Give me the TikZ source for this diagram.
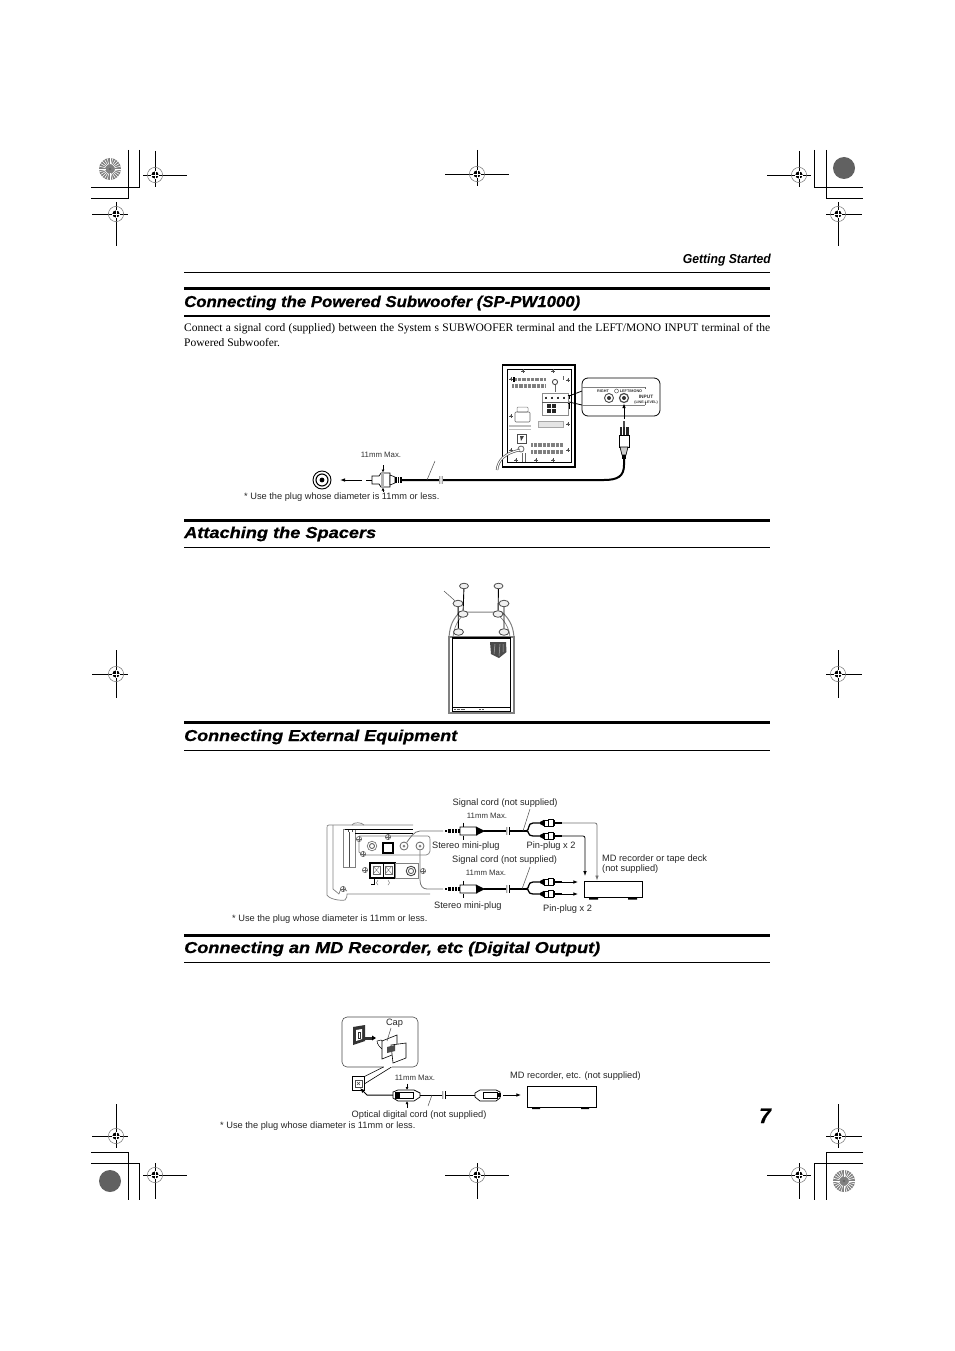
\documentclass[tikz,border=0pt]{standalone}
\usepackage{fontspec}
\setmainfont{Liberation Serif}
\setsansfont{Liberation Sans}
\newfontfamily\headfont[BoldItalicFont={Liberation Sans Bold Italic},BoldItalicFeatures={FakeBold=0.6}]{Liberation Sans}
\newfontfamily\condfont[BoldItalicFont={Liberation Sans Bold Italic}]{Liberation Sans}
\usetikzlibrary{arrows.meta,shapes.geometric}
\newcommand{\fitw}[2]{\resizebox{#1pt}{\height}{#2}}
\tikzset{
  heading/.style={anchor=base west,inner sep=0pt,font=\headfont\bfseries\itshape\fontsize{15.8}{18}\selectfont},
  bodytext/.style={anchor=base west,inner sep=0pt,font=\rmfamily\fontsize{11.5}{13}\selectfont},
  txtlabel/.style={anchor=base west,inner sep=0pt,font=\sffamily\fontsize{9.25}{11}\selectfont,text=black!85},
  tinylabel/.style={anchor=base,inner sep=0pt,font=\sffamily\fontsize{7.8}{9}\selectfont,text=black!80},
  micro/.style={anchor=base,inner sep=0pt,font=\sffamily\bfseries\fontsize{3.8}{4}\selectfont,text=black!80},
  thinrule/.style={line width=1pt},
  thickrule/.style={line width=2.4pt},
  cropline/.style={line width=0.9pt},
  cablethick/.style={line width=2pt,line cap=round},
  cordthin/.style={line width=0.8pt},
  graycord/.style={line width=0.8pt,draw=black!55},
  panelline/.style={line width=0.7pt,draw=black!50},
  hatchbar/.style={line width=3.6pt,draw=black!50,dash pattern=on 0.8pt off 0.5pt},
  hatchbarb/.style={line width=1.6pt,draw=black!25},
  leaderline/.style={line width=0.5pt,draw=black!70},
  arrowline/.style={line width=0.8pt,-{Latex[length=5pt,width=3.6pt]}},
  stubline/.style={line width=0.8pt,-{Latex[length=4.6pt,width=3.6pt]}},
  jacknode/.style={circle,draw=black!70,line width=0.9pt,inner sep=0pt},
}
\newcommand{\regmk}[6]{%
  \draw[line width=0.9pt] (#1-#3,#2) -- (#1+#4,#2);
  \draw[line width=0.9pt] (#1,#2-#5) -- (#1,#2+#6);
  \draw[line width=0.5pt,draw=black!55] (#1,#2) circle (7.6);
  \fill (#1,#2) circle (3.6);
  \draw[white,line width=0.6pt] (#1-4,#2) -- (#1+4,#2) (#1,#2-4) -- (#1,#2+4);
}
\newcommand{\sunburst}[3]{%
  \fill[#3] (#1,#2) circle (11);
  \foreach \a in {0,15,...,345} {\draw[white,line width=0.55pt] (#1,#2) ++(\a:4.5) -- ++(\a:6.5);}
  \fill[black!60] (#1,#2) circle (1.4);
}
\newcommand{\brk}[2]{%
  \fill[white] (#1-1.6,#2-2) rectangle (#1+1.6,#2+2);
  \draw[line width=0.5pt] (#1-1.2,#2-3.8) .. controls (#1,#2-1.5) and (#1-2.4,#2+1.5) .. (#1-1.2,#2+3.8);
  \draw[line width=0.5pt] (#1+1.2,#2-3.8) .. controls (#1+2.4,#2-1.5) and (#1,#2+1.5) .. (#1+1.2,#2+3.8);
}
\newcommand{\miniplug}[3]{%
  \fill (#2,#3-1) rectangle (#2+2,#3+1);
  \fill (#2+3,#3-1.6) rectangle (#2+15,#3+1.6);
  \draw[white,line width=0.6pt] (#2+6,#3-2) -- (#2+6,#3+2) (#2+9.5,#3-2) -- (#2+9.5,#3+2) (#2+12.5,#3-2) -- (#2+12.5,#3+2);
  \draw[line width=0.6pt,fill=white] (#2+15,#3-4) -- (#2+31,#3-4) -- (#2+32,#3+4) -- (#2+15,#3+4) -- cycle;
  \fill (#2+31,#3-4.5) -- (#2+40,#3) -- (#2+31,#3+4.5) -- cycle;
  \coordinate (#1) at (#2+39,#3);
}
\newcommand{\pinplug}[3]{%
  \fill (#2,#3-1) -- (#2+4,#3-3.2) -- (#2+4,#3+3.2) -- (#2,#3+1) -- cycle;
  \draw[line width=0.6pt,fill=white] (#2+4,#3-3.2) rectangle (#2+8,#3+3.2);
  \draw[line width=0.6pt,fill=white] (#2+8,#3-3.6) rectangle (#2+13,#3+3.6);
  \fill (#2+13,#3-2.6) rectangle (#2+15,#3+2.6);
  \fill (#2+15,#3-1) rectangle (#2+22,#3+1);
  \coordinate (#1) at (#2+22,#3);
}
\newcommand{\tinyscrew}[2]{\fill[black!70] (#1,#2) circle (0.9); \draw[black!70,line width=0.4pt] (#1-2,#2) -- (#1+2,#2) (#1,#2-2) -- (#1,#2+2);}
\newcommand{\pscrew}[2]{\draw[black!60,line width=0.6pt] (#1,#2) circle (2.6); \draw[black!60,line width=0.4pt] (#1-2.6,#2) -- (#1+2.6,#2) (#1,#2-2.6) -- (#1,#2+2.6);}
\begin{document}
\begin{tikzpicture}[x=1pt,y=-1pt]
\useasboundingbox (0,0) rectangle (954,1351);
\fill[white] (0,0) rectangle (954,1351);

% ---------- crop marks
\draw[cropline] (128.3,150) -- (128.3,198) -- (91,198);
\draw[cropline] (139.5,150) -- (139.5,187) -- (91,187);
\draw[cropline] (814,150) -- (814,187) -- (863,187);
\draw[cropline] (826,150) -- (826,198) -- (863,198);
\draw[cropline] (91,1152) -- (128.6,1152) -- (128.6,1200);
\draw[cropline] (91,1163) -- (139.5,1163) -- (139.5,1200);
\draw[cropline] (863,1152) -- (826,1152) -- (826,1200);
\draw[cropline] (863,1163) -- (814,1163) -- (814,1200);
\sunburst{110}{169}{black!50}
\fill[black!62] (844,168) circle (11);
\fill[black!62] (110,1181) circle (11);
\sunburst{844}{1181}{black!50}
\regmk{155}{175}{12}{32}{24}{12}
\regmk{116}{214}{24}{12}{12}{32}
\regmk{799}{175}{32}{12}{24}{12}
\regmk{838}{214}{12}{24}{12}{32}
\regmk{477}{174}{32}{32}{24}{12}
\regmk{116}{674}{24}{12}{24}{24}
\regmk{838}{674}{12}{24}{24}{24}
\regmk{116}{1136}{24}{12}{32}{12}
\regmk{838}{1136}{12}{24}{32}{12}
\regmk{155}{1175}{12}{32}{12}{24}
\regmk{477}{1175}{32}{32}{12}{24}
\regmk{799}{1175}{32}{12}{12}{24}

% ---------- running head and rules
\node[anchor=base east,inner sep=0pt,font=\condfont\bfseries\itshape\fontsize{13}{15}\selectfont] (runhead) at (771,263) {\fitw{88}{Getting Started}};
\draw[thinrule] (184,272.5) -- (770,272.5);
\draw[thickrule] (184,288.5) -- (770,288.5);
\draw[line width=1.8pt] (184,315.8) -- (770,315.8);
\node[heading] (h1) at (184,307) {\fitw{396}{Connecting the Powered Subwoofer (SP-PW1000)}};
\node[bodytext] (b1) at (184,331.5) {\makebox[586pt][s]{Connect a signal cord (supplied) between the System s SUBWOOFER terminal and the LEFT/MONO INPUT terminal of the}};
\node[bodytext] (b2) at (184,346) {Powered Subwoofer.};

\draw[thickrule] (184,520.5) -- (770,520.5);
\draw[thinrule] (184,547.5) -- (770,547.5);
\node[heading] (h2) at (184,538) {\fitw{192}{Attaching the Spacers}};
\draw[thickrule] (184,722.5) -- (770,722.5);
\draw[thinrule] (184,750.5) -- (770,750.5);
\node[heading] (h3) at (184,741) {\fitw{273}{Connecting External Equipment}};
\draw[thickrule] (184,935.5) -- (770,935.5);
\draw[thinrule] (184,962.5) -- (770,962.5);
\node[heading] (h4) at (184,953) {\fitw{416}{Connecting an MD Recorder, etc (Digital Output)}};
\node[anchor=base east,inner sep=0pt,font=\headfont\bfseries\itshape\fontsize{21}{24}\selectfont] (pageno) at (771,1123) {7};

% ---------- subwoofer rear panel
\draw[line width=1.1pt] (502.5,365) rectangle (575,467);
\draw[line width=0.7pt] (507.5,369.5) rectangle (571,462.5);
\tinyscrew{523}{371}\tinyscrew{553}{371}\tinyscrew{511}{379}\tinyscrew{568}{380}\tinyscrew{511}{416}\tinyscrew{568}{424}\tinyscrew{511}{450}\tinyscrew{568}{450}\tinyscrew{516}{460}\tinyscrew{536}{460}\tinyscrew{553}{460}
\draw[hatchbar] (515,379.5) -- (545,379.5);
\fill (513,377) rectangle (515,382);
\draw[hatchbar] (512,386) -- (545,386);
\draw[hatchbar] (531,445) -- (563,445);
\draw[hatchbar] (531,452) -- (563,452);
\draw[black!70,line width=0.9pt] (555,382) circle (2.6);
\draw[black!60,line width=0.5pt] (555,385) -- (555,392);
\draw[black!60,line width=1pt] (563,376) -- (563,380);
\draw[black!45,line width=0.5pt] (542,393) -- (568,393) -- (568,415) -- (542,415) -- cycle;
\foreach \x in {546,552,558,564} \draw[black!80,line width=1.1pt] (\x,396.5) -- (\x,398.5);
\draw[black!65,line width=0.7pt] (542,402) -- (568,402);
\fill[black!85] (547,404) rectangle (551,408);\fill[black!85] (552,404) rectangle (556,408);
\fill[black!85] (547,409) rectangle (551,413);\fill[black!85] (552,409) rectangle (556,413);
\draw[black!60,line width=0.6pt,rounded corners=1pt] (515,412) rectangle (530,422);
\draw[black!50,line width=0.5pt,rounded corners=1pt] (517,407) rectangle (528,412);
\draw[hatchbarb] (509,426) -- (531,426);
\draw[hatchbarb] (509,429.5) -- (531,429.5);
\draw[line width=0.5pt,draw=black!35,fill=black!10] (538,421) rectangle (563,427);
\draw[line width=0.7pt,draw=black!70] (517,434) rectangle (526,443);
\fill[black!75] (520,436) -- (524,436) -- (521,441) -- cycle;
\draw[black!60,line width=0.8pt] (521,449) circle (3);
% power cord
\draw[black!65,line width=2.4pt] (520,450) .. controls (505,453) and (498,460) .. (497,470);
\draw[white,line width=1pt] (520,450) .. controls (505,453) and (498,460) .. (497,470);
\draw[black!60,line width=0.4pt] (522,453) -- (522,462) (525,453) -- (525,462);

% inset
\draw[line width=0.8pt] (567.5,395) -- (569,395) -- (569,399);
\draw[line width=0.8pt] (567.5,403) -- (569,403) -- (569,409);
\draw[line width=0.8pt] (569,396) -- (582,391);
\draw[line width=0.8pt] (569,402) -- (582,405);
\draw[line width=0.8pt,fill=white,rounded corners=6pt] (582,378) rectangle (660,416);
\draw[panelline] (582,387) -- (645,387) (645,405) -- (582,405);
\draw[black!60,line width=0.5pt] (645,387) -- (645,389) (645,402) -- (645,405);
\node[jacknode,minimum size=9pt] (inR) at (609,398) {};
\fill[black!80] (609,398) circle (2);
\node[jacknode,minimum size=9pt,line width=1.2pt] (inL) at (624,398) {};
\fill[black!80] (624,398) circle (2);
\draw[black!65,line width=0.5pt] (616.5,391) circle (2);
\node[micro] (lblRight) at (603,392.5) {RIGHT};
\node[micro] (lblLeft) at (631,392.5) {LEFT/MONO};
\node[micro] (lblInput) at (646,398) {\fontsize{4.8}{5}\selectfont INPUT};
\node[micro] (lblLine) at (646,403) {\fontsize{3.6}{4}\selectfont (LINE-LEVEL)};

% RCA plug at the inset
\coordinate (rcaTip) at (624,419);
\draw[arrowline,line width=1pt] (rcaTip) -- (inL.south);
\fill[black!70] (623,421) rectangle (625,427);
\fill[black!85] (619.5,427) rectangle (628.5,435);
\draw[white,line width=0.7pt] (622.5,427) -- (622.5,435) (625.5,427) -- (625.5,435);
\draw[line width=0.7pt,fill=white] (619,435) rectangle (629,447);
\draw[line width=0.7pt,fill=black!20] (620,447) -- (628,447) -- (626,455) -- (622,455) -- cycle;
\fill (622,455) rectangle (626,459);
\coordinate (rcaTail) at (624,459);

% plug at the left
\node[circle,draw=black,line width=0.9pt,minimum size=18pt,inner sep=0pt] (auxJack) at (322,480) {};
\draw[line width=1.1pt] (322,480) circle (6);
\fill (322,480) circle (2.4);
\coordinate (auxTail) at (362,480);
\draw[arrowline,line width=0.9pt] (auxTail) -- (340,480);
\draw[line width=0.7pt] (366,480) -- (372,480);
\draw[line width=0.7pt,fill=white] (372,476) -- (379,476) -- (381,473) -- (390,473) -- (390,487) -- (381,487) -- (379,484) -- (372,484) -- cycle;
\fill[black!30] (381,473.4) rectangle (384,486.6);
\draw[line width=0.6pt,fill=white] (390,475) -- (395,477) -- (395,483) -- (390,485) -- cycle;
\fill (395,477) rectangle (402,483);
\draw[white,line width=0.5pt] (397,477) -- (397,483) (399.5,477) -- (399.5,483);
\coordinate (auxCable) at (402,480);
\draw[cordthin,-{Latex[length=3pt,width=3pt]}] (383,465) -- (383,472.5);
\draw[cordthin,-{Latex[length=3pt,width=3pt]}] (383,491.5) -- (383,487.5);
\draw[cablethick] (auxCable) -- (604,480) .. controls (618,480) and (624,476) .. (624,465) -- (rcaTail);
\brk{441}{480}
\draw[leaderline] (427,480) -- (435,461);
\node[tinylabel] (mm1) at (381,457) {11mm Max.};
\node[txtlabel] (note1) at (244,499.5) {* Use the plug whose diameter is 11mm or less.};

% ---------- spacers
\draw[line width=1.1pt,draw=black!50] (449,713) rectangle (514,637);
\draw[line width=1pt,draw=black!50] (449,637) .. controls (450,624) and (454,618) .. (460,612) -- (502,612) .. controls (508,618) and (513,624) .. (514,637);
\draw[line width=0.7pt,draw=black!50] (453,637) .. controls (454,627) and (458,620) .. (463,615);
\draw[line width=0.7pt,draw=black!50] (510,637) .. controls (509,627) and (504,620) .. (498,615);
\fill[white] (452,637) rectangle (511,711);
\draw[line width=1pt] (452,638) rectangle (510.5,711);
\draw[line width=1.6pt] (452,638) -- (510.5,638);
\draw[line width=0.7pt] (453,707.5) -- (510,707.5);
\draw[black!65,line width=0.7pt,dash pattern=on 0.8pt off 0.5pt] (454,709.5) -- (465,709.5) (479,709.5) -- (484,709.5);
\fill[black!70] (490,642) -- (506,642) -- (506.5,652) -- (499,658) -- (491,654) -- cycle;
\draw[black!30,line width=0.5pt] (495,644) -- (494,654) (500,644) -- (499,656) (503,644) -- (503,652);
\tikzset{spacernode/.style={ellipse,draw=black!70,fill=black!6,line width=0.8pt,inner sep=0pt,minimum width=9pt,minimum height=5.5pt},
  spacerbig/.style={spacernode,minimum width=10pt,minimum height=6.5pt}}
\node[spacerbig] (holeA) at (463,614) {};
\node[spacerbig] (holeB) at (498,614) {};
\node[spacerbig] (holeC) at (458.5,632) {};
\node[spacerbig] (holeD) at (504,632) {};
\node[spacernode] (spA) at (464,586) {};
\node[spacernode] (spB) at (498.5,586) {};
\node[spacerbig] (spC) at (458,603.5) {};
\node[spacerbig] (spD) at (504,603.5) {};
\draw[line width=0.9pt] (spA) -- (holeA) (spB) -- (holeB) (spC) -- (holeC) (spD) -- (holeD);
\coordinate (spLead) at (444,591);
\draw[leaderline] (spLead) -- (spC);

% ---------- external equipment: panel
\draw[panelline] (413,825) -- (329,825) .. controls (327,825) and (327,826) .. (327,828) -- (327,895) .. controls (329,899) and (340,901) .. (345,900) .. controls (347,898) and (347,896) .. (347,894) -- (430,894);
\draw[panelline] (333,825) -- (333,889) -- (339,894);
\draw[panelline] (339,894) .. controls (339,889) and (345,887) .. (347,891);
\fill[white] (343,828) rectangle (355,867);
\draw[panelline] (343,829) rectangle (355,867);
\draw[black!70,line width=0.5pt] (348,829) -- (348,832) (352,829) -- (352,832) (349,832) -- (349,867);
\draw[line width=0.8pt] (345,829) -- (413,829);
\draw[line width=0.8pt] (366,833) -- (413,833);
\draw[line width=1.5pt] (355,833.5) -- (366,833.5);
\draw[panelline] (352,825) .. controls (353,822) and (362,822) .. (364,825);
\draw[panelline] (359,836) -- (428,836) .. controls (430,836) and (430,838) .. (430,840) -- (430,851) .. controls (430,853) and (428,855) .. (426,855) -- (363,855);
\draw[panelline] (359,839) -- (359,852) -- (363,855);
\pscrew{359}{839}
\pscrew{363}{854}
\pscrew{388}{837}
\pscrew{343}{889}
\pscrew{365}{870}
\pscrew{423}{871}
\draw[black!60,line width=0.6pt] (372,846) circle (4.8);
\draw[black!70,line width=0.8pt] (372,846) circle (2.5);
\draw[line width=1.3pt] (383,843) rectangle (393,853);
\node[circle,draw=black!60,line width=0.8pt,minimum size=8pt,inner sep=0pt] (sysAuxOut) at (404,846) {};
\fill[black!50] (404,846) circle (1.5);
\node[circle,draw=black!60,line width=0.8pt,minimum size=8pt,inner sep=0pt] (sysAuxIn) at (420,846) {};
\fill[black!50] (420,846) circle (1.5);
\draw[line width=1.2pt] (370,863) rectangle (395,878);
\draw[line width=0.8pt] (383,863) -- (383,878);
\draw[line width=1.1pt] (370,877.5) -- (395,877.5);
\draw[black!60,line width=0.5pt] (373,866) rectangle (380,874) (385,866) rectangle (392,874);
\draw[black!55,line width=0.4pt] (373,866) -- (380,874) (380,866) -- (373,874) (385,866) -- (392,874) (392,866) -- (385,874);
\draw[panelline] (395,863) rectangle (418,878);
\draw[black!80,line width=0.8pt] (411,871) circle (4.8);
\draw[black!60,line width=0.9pt] (411,871) circle (2.6);
\draw[line width=0.5pt] (374,879) -- (374,884) -- (371,884);
\draw[black!60,line width=0.4pt] (378,880) .. controls (376,882) and (376,884) .. (378,885);
\draw[black!60,line width=0.4pt] (388,880) .. controls (390,882) and (390,884) .. (388,885);

% upper cord
\miniplug{pu}{445}{831}
\draw[graycord] (sysAuxOut) .. controls (410,838) and (414,831) .. (420,831) -- (443,831);
\draw[cablethick] (pu) -- (526,831);
\brk{508}{831}
\draw[line width=1.3pt] (526,831) .. controls (530,831) and (527,823) .. (533,823) -- (540,823);
\draw[line width=1.3pt] (526,831) .. controls (530,831) and (527,836) .. (533,836) -- (540,836);
\pinplug{pa}{540}{823}
\pinplug{pb}{540}{836}
% lower cord
\miniplug{pl}{445}{889}
\draw[graycord] (sysAuxIn) -- (420,880) .. controls (420,886) and (423,889) .. (427,889) -- (443,889);
\draw[cablethick] (pl) -- (526,889);
\brk{508}{889}
\draw[line width=1.3pt] (526,889) .. controls (530,889) and (527,882) .. (533,882) -- (540,882);
\draw[line width=1.3pt] (526,889) .. controls (530,889) and (527,894) .. (533,894) -- (540,894);
\pinplug{pc}{540}{882}
\pinplug{pd}{540}{894}
% deck
\node[draw,line width=0.9pt,minimum width=58pt,minimum height=16pt,inner sep=0pt,fill=white] (deck) at (613,889) {};
\fill (589,897) rectangle (598,899.5) (628,897) rectangle (637,899.5);
\draw[graycord,-{Latex[length=5pt,width=3.6pt]},rounded corners=2pt] (pa) -- (597,823) -- (597,880.5);
\draw[cordthin,-{Latex[length=5pt,width=3.6pt]},rounded corners=2pt] (pb) -- (585,836) -- (585,876);
\coordinate (deckInA) at (578,882);
\coordinate (deckInB) at (578,894);
\draw[stubline] (pc) -- (deckInA);
\draw[stubline] (pd) -- (deckInB);
\draw[leaderline] (523,831) -- (530,809);
\draw[leaderline] (522,889) -- (530,867);
\node[txtlabel] (s1) at (452.5,805) {Signal cord (not supplied)};
\node[tinylabel] (mmA) at (487,818.5) {11mm Max.};
\node[txtlabel] (s2) at (432,848) {Stereo mini-plug};
\node[txtlabel] (s3) at (526.5,848) {Pin-plug x 2};
\node[txtlabel] (s4) at (452,862) {Signal cord (not supplied)};
\node[tinylabel] (mmB) at (486,875) {11mm Max.};
\node[txtlabel] (s5) at (434,908) {Stereo mini-plug};
\node[txtlabel] (s6) at (543,911) {Pin-plug x 2};
\node[txtlabel] (s7) at (602,861) {MD recorder or tape deck};
\node[txtlabel] (s8) at (602,871) {(not supplied)};
\node[txtlabel] (note2) at (232,921) {* Use the plug whose diameter is 11mm or less.};
\draw[cordthin] (463,822.5) -- (463,826.5) (463,835.5) -- (463,839.5);
\draw[cordthin] (463,880.5) -- (463,884.5) (463,893.5) -- (463,897.5);

% ---------- digital output
\draw[line width=0.6pt,draw=black!70,rounded corners=5pt] (342,1017) rectangle (418,1067);
\fill[white] (383.5,1066) rectangle (391.5,1068);
\node[txtlabel,anchor=base] (capLbl) at (394.5,1025) {Cap};
\fill[black!80] (353,1027) -- (365,1025) -- (365,1041) -- (353,1045) -- cycle;
\fill[white] (356,1030) -- (362,1029) -- (362,1039) -- (356,1041) -- cycle;
\draw[black!80,line width=0.6pt] (358,1032) -- (360,1032) -- (360,1038) -- (358,1038) -- cycle;
\fill[black!80] (365,1036.5) rectangle (372,1039.5);
\fill (372,1035.5) -- (372,1040.5) -- (376,1038) -- cycle;
\draw[line width=0.5pt,fill=white] (377,1041) .. controls (377,1044) and (380,1048) .. (384,1050) -- (384,1042) -- (381,1040) -- cycle;
\draw[line width=0.6pt,fill=white] (382,1041) -- (397,1035) -- (397,1053) -- (382,1059) -- cycle;
\draw[line width=0.6pt,fill=white] (391,1045) -- (406,1043) -- (406,1058) -- (393,1063) -- cycle;
\fill[black!70] (387,1047) -- (395,1045) -- (395,1051) -- (387,1053) -- cycle;
\draw[leaderline] (391,1028) -- (387,1041);
\node[draw,line width=1pt,minimum width=12pt,minimum height=13.5pt,inner sep=0pt] (optJack) at (358.5,1083.5) {};
\draw[black!70,line width=0.6pt] (355,1080) rectangle (362,1087);
\draw[black!70,line width=0.4pt] (357,1082) -- (360,1085) (360,1082) -- (357,1085);
\draw[line width=0.6pt] (optJack.east) -- (391.5,1067);
\draw[line width=0.6pt] (optJack.north east) -- (383.5,1067);
\node[tinylabel] (mmC) at (415,1080) {11mm Max.};
\tikzset{optplug/.style={line width=0.7pt,fill=white}}
\draw[optplug] (393,1092) -- (398,1090) -- (414,1090) -- (420,1093) -- (420,1097) -- (414,1101) -- (398,1101) -- (393,1098) -- cycle;
\draw[line width=1pt] (399,1092.5) rectangle (413,1098.5);
\fill (395,1092) rectangle (399,1099);
\draw[cordthin,-{Latex[length=3pt,width=3pt]}] (407,1083.5) -- (407,1090);
\draw[cordthin,-{Latex[length=3pt,width=3pt]}] (407,1107.5) -- (407,1101);
\coordinate (optA) at (393,1095);
\coordinate (optB) at (420,1095);
\draw[line width=1pt,-{Latex[length=5pt,width=4pt]}] (optA) -- (367,1095) -- (360,1088);
\draw[optplug] (475,1093) -- (480,1090) -- (496,1090) -- (500,1092) -- (500,1098) -- (496,1101) -- (480,1101) -- (475,1097) -- cycle;
\draw[line width=1pt] (483,1092.5) rectangle (497,1098.5);
\fill (498,1093) rectangle (500.5,1097);
\coordinate (optC) at (475,1095);
\coordinate (optD) at (503,1095);
\draw[line width=0.9pt] (optB) -- (optC);
\brk{444}{1095}
\draw[leaderline] (432,1095) -- (428,1106);
\node[draw,line width=0.9pt,minimum width=69pt,minimum height=21pt,inner sep=0pt,fill=white] (mdrec) at (561.5,1096.5) {};
\fill (532,1107) rectangle (540,1109) (581,1107) rectangle (589,1109);
\coordinate (mdIn) at (521,1095);
\draw[stubline] (optD) -- (mdIn);
\node[txtlabel] (d1) at (510,1078) {MD recorder, etc. (not supplied)};
\node[txtlabel] (d2) at (351.5,1117) {Optical digital cord (not supplied)};
\node[txtlabel] (note3) at (220,1128) {* Use the plug whose diameter is 11mm or less.};
\end{tikzpicture}
\end{document}
